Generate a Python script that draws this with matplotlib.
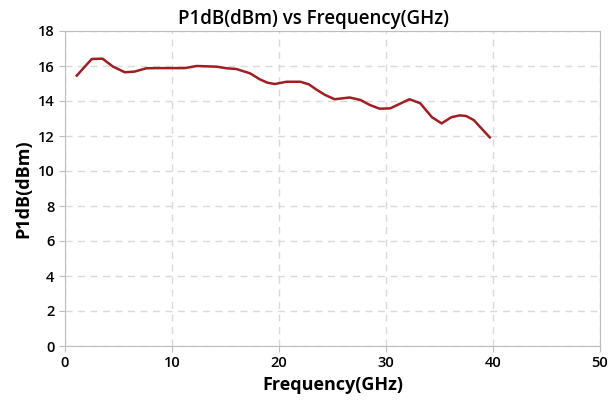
import matplotlib
matplotlib.use("Agg")
import matplotlib.pyplot as plt

freq = [1.1, 2.5, 3.5, 4.5, 5.6, 6.5, 7.6, 8.9, 11.2, 12.3, 14.2, 15.1, 16.0, 17.3, 18.2, 18.9, 19.6,
        20.7, 22.0, 22.8, 23.5, 24.3, 25.2, 26.6, 27.6, 28.5, 29.4, 30.4, 31.5, 32.2, 33.2, 34.3,
        35.2, 36.1, 36.9, 37.5, 38.2, 39.7]
p1db = [15.45, 16.4, 16.42, 15.96, 15.64, 15.68, 15.87, 15.88, 15.88, 16.0, 15.96, 15.87, 15.83, 15.58,
        15.24, 15.05, 14.97, 15.1, 15.1, 14.95, 14.65, 14.35, 14.1, 14.2, 14.06, 13.77, 13.56, 13.58,
        13.9, 14.1, 13.87, 13.07, 12.72, 13.07, 13.18, 13.14, 12.91, 11.92]
xticks = [0, 10, 20, 30, 40, 50]
yticks = [0, 2, 4, 6, 8, 10, 12, 14, 16, 18]

plt.rcParams['font.family'] = ['Open Sans', 'DejaVu Sans']
fig = plt.figure(figsize=(6.16, 4.0), dpi=100)
ax = fig.add_axes([0.1055, 0.135, 0.8685, 0.7875])
ax.plot(freq, p1db, color='#A01E22', lw=1.8)
ax.set_xlim(0, 50)
ax.set_ylim(0, 18)
ax.set_xticks(xticks)
ax.set_yticks(yticks)
ax.grid(True, linestyle=(0, (5, 4)), color='#DADADA', lw=1)
for s in ax.spines.values():
    s.set_color('#BDBDBD')
ax.tick_params(colors='#BDBDBD', labelcolor='black', labelsize=10.5, length=4)
for lab in ax.get_xticklabels() + ax.get_yticklabels():
    lab.set_fontweight('semibold')
ax.set_xlabel('Frequency(GHz)', fontsize=13, fontweight='bold', labelpad=4)
ax.set_ylabel('P1dB(dBm)', fontsize=13, fontweight='bold', labelpad=4)
ax.set_title('P1dB(dBm) vs Frequency(GHz)', fontsize=13.5, fontweight='semibold', pad=5, x=0.4636)
fig.savefig('out.png', dpi=100)
